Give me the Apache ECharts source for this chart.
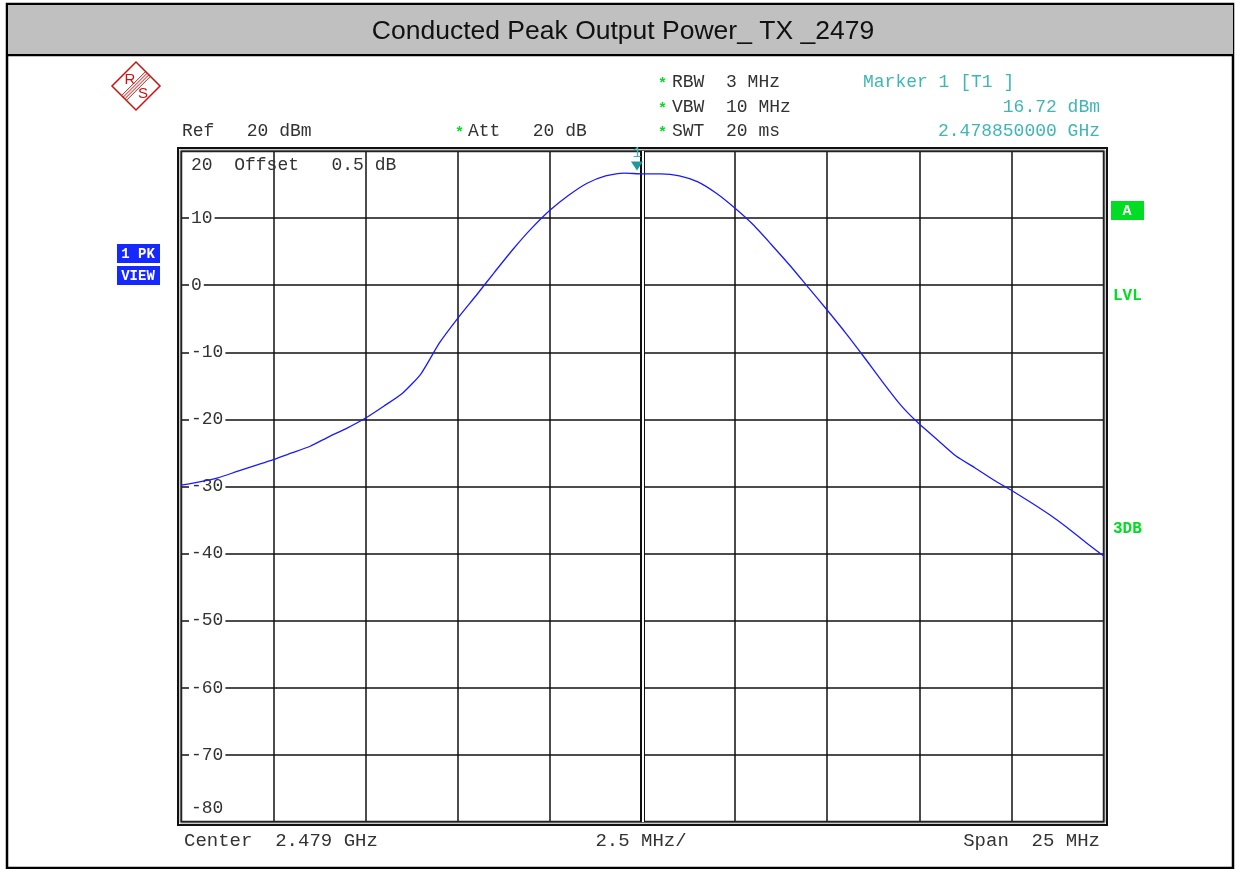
<!DOCTYPE html>
<html style="height: 100%">
<head>
    <meta charset="utf-8">
</head>
<body style="height: 100%; margin: 0; background: #fff">
<div id="container" style="width: 1237px; height: 869px"></div>

<script type="text/javascript" src="https://cdn.jsdelivr.net/npm/echarts@6/dist/echarts.min.js"></script>
<script type="text/javascript">
    // trace: offset from center (MHz) and level (dBm)
    var freqOffsets = [-12.5, -12, -11.5, -11, -10.5, -10, -9.5, -9, -8.5, -8, -7.5, -7, -6.5, -6, -5.5, -5,
        -4.5, -4, -3.5, -3, -2.5, -2, -1.5, -1, -0.5, 0, 0.5, 1, 1.5, 2, 2.5, 3, 3.5, 4, 4.5, 5,
        5.5, 6, 6.5, 7, 7.5, 8, 8.5, 9, 9.5, 10, 10.5, 11, 11.5, 12, 12.5];
    var levels = [-29.8, -29.3, -28.7, -27.8, -26.9, -26.0, -25.0, -24.0, -22.6, -21.3, -19.8, -18.0, -16.1, -13.2, -8.6, -4.9,
        -1.5, 2.0, 5.4, 8.5, 11.2, 13.4, 15.2, 16.3, 16.7, 16.6, 16.6, 16.3, 15.4, 13.7, 11.5, 9.0, 6.0, 2.9, -0.4, -3.7,
        -7.1, -10.7, -14.4, -17.9, -20.7, -23.1, -25.5, -27.2, -29.0, -30.6, -32.3, -34.1, -36.1, -38.3, -40.4];
    var markerOffset = -0.15;
    var markerLevel = 16.72;
    var yTicks = [20, 10, 0, -10, -20, -30, -40, -50, -60, -70, -80];

    var trace = freqOffsets.map(function (f, i) { return [f, levels[i]]; });

    var mono = 'Liberation Mono';
    var grey = '#333';
    var teal = '#3fb6b6';
    var green = '#00dd22';

    function txt(x, y, s, color, align, size, weight) {
        return {
            type: 'text', x: x, y: y, z: 20,
            style: {
                text: s, fill: color || grey, font: (weight || 'normal') + ' ' + (size || 18) + 'px "' + mono + '"',
                textAlign: align || 'left', textVerticalAlign: 'middle'
            }
        };
    }
    function star(x, y) {
        return txt(x, y + 2, '*', green, 'left', 15, 'bold');
    }
    function box(x, y, w, h, fill) {
        return {type: 'rect', z: 19, shape: {x: x, y: y, width: w, height: h}, style: {fill: fill}};
    }
    function ln(x1, y1, x2, y2, color, w) {
        return {type: 'line', z: 18, shape: {x1: x1, y1: y1, x2: x2, y2: y2}, style: {stroke: color, lineWidth: w}};
    }

    var stripes = [];
    [-2.4, -0.8, 0.8, 2.4].forEach(function (d) {
        stripes.push(ln(148 + d, 74 + d, 124 + d, 98 + d, '#cc1111', 1));
    });

    var graphics = [
        // frame and title band
        box(8, 5, 1225, 49, '#c0c0c0'),
        {type: 'rect', z: 18, shape: {x: 7, y: 4, width: 1226, height: 864}, style: {fill: 'none', stroke: '#000', lineWidth: 2.5}},
        ln(7, 55, 1233, 55, '#000', 2.5),
        {
            type: 'text', x: 623, y: 32, z: 20,
            style: {text: 'Conducted Peak Output Power_ TX _2479', fill: '#111', font: '26.5px "Liberation Sans"', textAlign: 'center', textVerticalAlign: 'middle'}
        },
        // R&S logo
        {type: 'polygon', z: 18, shape: {points: [[136, 62], [160, 86], [136, 110], [112, 86]]}, style: {fill: 'none', stroke: '#cc1111', lineWidth: 1.5}},
        {type: 'text', x: 130, y: 80, z: 20, style: {text: 'R', fill: '#cc1111', font: '15px "Liberation Sans"', textAlign: 'center', textVerticalAlign: 'middle'}},
        {type: 'text', x: 143, y: 94, z: 20, style: {text: 'S', fill: '#cc1111', font: '15px "Liberation Sans"', textAlign: 'center', textVerticalAlign: 'middle'}},
        // header
        star(658, 82), txt(672, 82, 'RBW  3 MHz'),
        star(658, 107), txt(672, 107, 'VBW  10 MHz'),
        star(658, 131), txt(672, 131, 'SWT  20 ms'),
        star(455, 131), txt(468, 131, 'Att   20 dB'),
        txt(182, 131, 'Ref   20 dBm'),
        txt(863, 82, 'Marker 1 [T1 ]', teal),
        txt(1100, 107, '16.72 dBm', teal, 'right'),
        txt(1100, 131, '2.478850000 GHz', teal, 'right'),
        // inside labels
        txt(191, 165, '20  Offset   0.5 dB'),
        txt(191, 808, '-80'),
        // footer
        txt(184, 841, 'Center  2.479 GHz', grey, 'left', 19),
        txt(641, 841, '2.5 MHz/', grey, 'center', 19),
        txt(1100, 841, 'Span  25 MHz', grey, 'right', 19),
        // left status boxes
        box(117, 244, 43, 19, '#1428ff'), txt(138, 254, '1 PK', '#fff', 'center', 14, 'bold'),
        box(117, 266, 43, 19, '#1428ff'), txt(138, 276, 'VIEW', '#fff', 'center', 14, 'bold'),
        // right status
        box(1111, 201, 33, 19, green), txt(1127, 211, 'A', '#fff', 'center', 15, 'bold'),
        txt(1113, 296, 'LVL', green, 'left', 16, 'bold'),
        txt(1113, 529, '3DB', green, 'left', 16, 'bold'),
        // double plot border, kept under the trace and marker
        {type: 'rect', z: 3, shape: {x: 178, y: 148, width: 929, height: 677}, style: {fill: 'none', stroke: '#111', lineWidth: 2}},
        {type: 'rect', z: 3, shape: {x: 180, y: 150, width: 925, height: 673}, style: {fill: 'none', stroke: '#999', lineWidth: 1}},
        {type: 'rect', z: 3, shape: {x: 181.5, y: 151.5, width: 922, height: 670}, style: {fill: 'none', stroke: '#222', lineWidth: 1.5}}
    ].concat(stripes);

    var dom = document.getElementById('container');
    var myChart = echarts.init(dom);

    var option = {
        backgroundColor: '#fff',
        animation: false,
        grid: {left: 181, top: 151, width: 923, height: 671, containLabel: false},
        xAxis: {
            type: 'value', min: -12.5, max: 12.5, interval: 2.5,
            axisLine: {show: false}, axisTick: {show: false}, axisLabel: {show: false},
            splitLine: {show: true, lineStyle: {color: '#111', width: 1.5}}
        },
        yAxis: {
            type: 'value', min: yTicks[yTicks.length - 1], max: yTicks[0], interval: 10,
            axisLine: {show: false}, axisTick: {show: false},
            axisLabel: {
                inside: true, margin: 8, showMinLabel: false, showMaxLabel: false,
                color: grey, fontFamily: mono, fontSize: 18,
                backgroundColor: '#fff', padding: [0, 2]
            },
            splitLine: {show: true, lineStyle: {color: '#111', width: 1.5}}
        },
        graphic: graphics,
        series: [
            {
                // center double line
                type: 'line', data: [], z: 1,
                markLine: {
                    silent: true, symbol: 'none', label: {show: false},
                    lineStyle: {color: '#111', width: 5, type: 'solid'},
                    data: [{xAxis: 0}]
                }
            },
            {
                type: 'line', data: [], z: 2,
                markLine: {
                    silent: true, symbol: 'none', label: {show: false},
                    lineStyle: {color: '#fff', width: 2, type: 'solid'},
                    data: [{xAxis: 0}]
                }
            },
            {
                type: 'line', data: trace, z: 5,
                showSymbol: false, smooth: 0.2,
                lineStyle: {color: '#1a1aff', width: 1.3},
                markPoint: {
                    z: 10,
                    symbol: 'triangle', symbolRotate: 180, symbolSize: [12, 9], symbolOffset: [0, -7],
                    itemStyle: {color: '#1a9a9a'},
                    label: {show: true, position: 'top', distance: 1, formatter: '1', color: teal, fontFamily: mono, fontSize: 15},
                    data: [{coord: [markerOffset, markerLevel]}]
                }
            }
        ]
    };

    if (option && typeof option === 'object') {
        myChart.setOption(option);
    }
</script>
</body>
</html>
